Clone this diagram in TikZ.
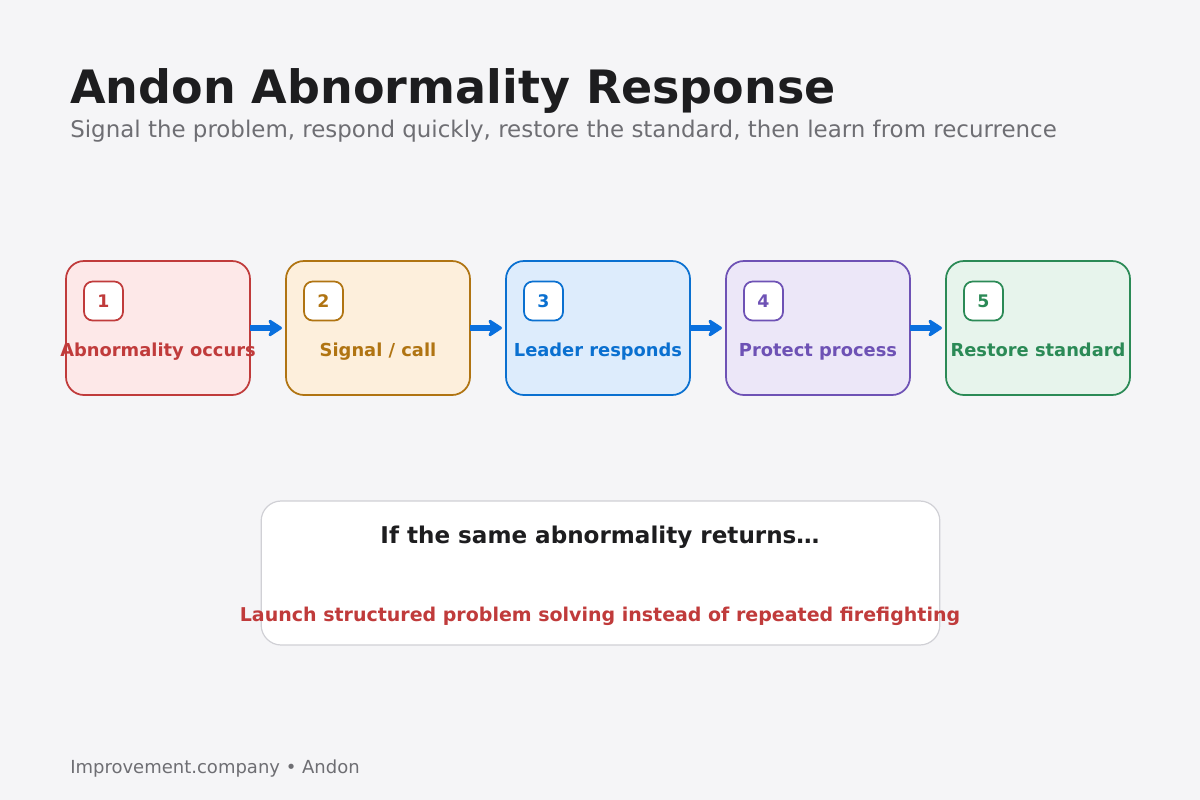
\documentclass[tikz,border=0pt]{standalone}
\usepackage{fontspec}
\setmainfont{DejaVu Sans}
\usetikzlibrary{positioning,arrows.meta}

\definecolor{pagebg}{HTML}{F5F5F7}
\definecolor{ink}{HTML}{1D1D1F}
\definecolor{muted}{HTML}{6E6E73}
\definecolor{flow}{HTML}{0A70DE}
\definecolor{redline}{HTML}{C03B3B}
\definecolor{redlinefill}{HTML}{FDE8E8}
\definecolor{amberline}{HTML}{B07412}
\definecolor{amberlinefill}{HTML}{FDEFDC}
\definecolor{blueline}{HTML}{0A70D0}
\definecolor{bluelinefill}{HTML}{DDECFC}
\definecolor{violetline}{HTML}{6E52B5}
\definecolor{violetlinefill}{HTML}{ECE7F8}
\definecolor{greenline}{HTML}{2B8A56}
\definecolor{greenlinefill}{HTML}{E7F4EC}
\definecolor{cardline}{HTML}{D0D0D5}

\begin{document}
\begin{tikzpicture}[
    x=0.75pt, y=-0.75pt,
    node distance=27pt,
    stepbox/.style={draw=#1, fill=#1fill, line width=1.3pt, rounded corners=13.5pt,
      minimum width=138pt, minimum height=100.5pt, inner sep=0pt, outer sep=0pt},
    badge/.style={draw=#1, fill=white, line width=1.3pt, rounded corners=6.5pt,
      minimum size=29.25pt, inner sep=0pt, text=#1, font=\bfseries\fontsize{13}{15}\selectfont},
    steplabel/.style={anchor=base, inner sep=0pt, text=#1, font=\bfseries\fontsize{13.4}{16}\selectfont},
    flowarrow/.style={draw=flow, line width=4pt, shorten >=3pt,
      -{Stealth[length=12.5pt,width=16pt,inset=4pt,round]}}
  ]
    \useasboundingbox[fill=pagebg] (0,0) rectangle (1200,800);

    % heading
    \node (title) [anchor=base west, inner sep=0pt, text=ink,
      font=\bfseries\fontsize{34.5}{40}\selectfont] at (70,103) {Andon Abnormality Response};
    \node (subtitle) [anchor=base west, inner sep=0pt, text=muted,
      font=\fontsize{17.2}{20}\selectfont] at (70,137)
      {Signal the problem, respond quickly, restore the standard, then learn from recurrence};

    % five steps
    \node (occurs) [stepbox=redline] at (158,328) {};
    \node (signal) [stepbox=amberline, right=of occurs] {};
    \node (leader) [stepbox=blueline, right=of signal] {};
    \node (protect) [stepbox=violetline, right=of leader] {};
    \node (restore) [stepbox=greenline, right=of protect] {};

    \node (n1) [badge=redline] at ([shift={(37.5,40)}]occurs.north west) {1};
    \node (n2) [badge=amberline] at ([shift={(37.5,40)}]signal.north west) {2};
    \node (n3) [badge=blueline] at ([shift={(37.5,40)}]leader.north west) {3};
    \node (n4) [badge=violetline] at ([shift={(37.5,40)}]protect.north west) {4};
    \node (n5) [badge=greenline] at ([shift={(37.5,40)}]restore.north west) {5};

    \node (l1) [steplabel=redline] at ([shift={(0,28)}]occurs.center) {Abnormality occurs};
    \node (l2) [steplabel=amberline] at ([shift={(0,28)}]signal.center) {Signal / call};
    \node (l3) [steplabel=blueline] at ([shift={(0,28)}]leader.center) {Leader responds};
    \node (l4) [steplabel=violetline] at ([shift={(0,28)}]protect.center) {Protect process};
    \node (l5) [steplabel=greenline] at ([shift={(0,28)}]restore.center) {Restore standard};

    \draw[flowarrow] (occurs) -- (signal);
    \draw[flowarrow] (signal) -- (leader);
    \draw[flowarrow] (leader) -- (protect);
    \draw[flowarrow] (protect) -- (restore);

    % recurrence card
    \node (card) [draw=cardline, fill=white, line width=0.9pt, rounded corners=15pt,
      minimum width=509pt, minimum height=108pt, inner sep=0pt] at (600.5,573) {};
    \node (returns) [anchor=base, inner sep=0pt, text=ink,
      font=\bfseries\fontsize{17.3}{20}\selectfont] at (600,543) {If the same abnormality returns…};
    \node (launch) [anchor=base, inner sep=0pt, text=redline,
      font=\bfseries\fontsize{14.25}{17}\selectfont] at (600,621)
      {Launch structured problem solving instead of repeated firefighting};

    \node (footer) [anchor=base west, inner sep=0pt, text=muted,
      font=\fontsize{13.5}{16}\selectfont] at (70,773) {Improvement.company • Andon};
  \end{tikzpicture}
\end{document}
